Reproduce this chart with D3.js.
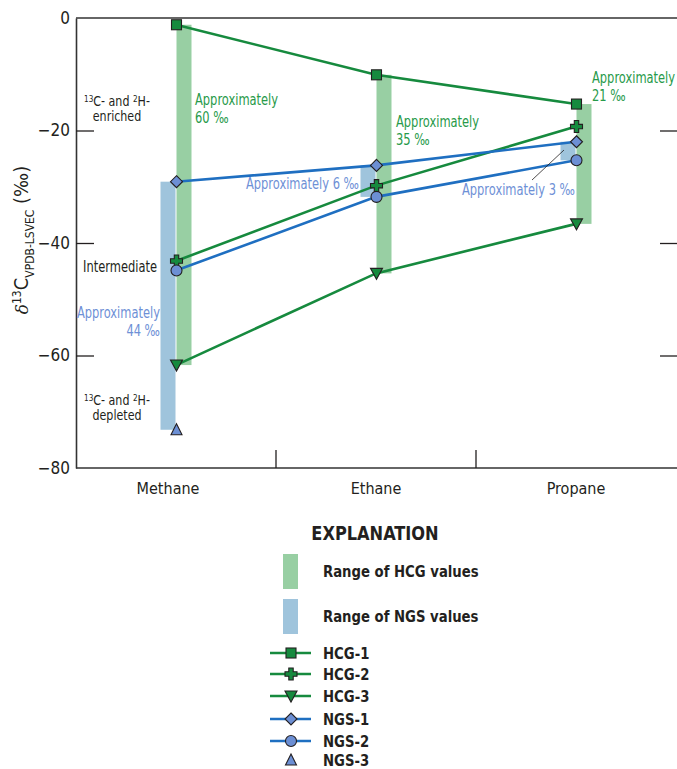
<!DOCTYPE html>
<html>
<head>
<meta charset="utf-8">
<script src="https://cdn.jsdelivr.net/npm/d3@7"></script>
<style>
  body { margin: 0; background: #fff; }
  svg text { font-family: "Liberation Sans Narrow", "DejaVu Sans Condensed", "Roboto", sans-serif; fill: #231f20; }
</style>
</head>
<body>
<script>
// data (delta 13C, permil)
var categories = ["Methane", "Ethane", "Propane"]
var seriesNames = ["HCG-1", "HCG-2", "HCG-3", "NGS-1", "NGS-2", "NGS-3"]
var hcg1 = [-1.2, -10.1, -15.3]
var hcg2 = [-43.2, -29.8, -19.3]
var hcg3 = [-61.7, -45.4, -36.6]
var ngs1 = [-29.1, -26.2, -22.0]
var ngs2 = [-44.9, -31.8, -25.3]
var ngs3 = [-73.2, null, null]
var yTicks = [-80, -60, -40, -20, 0]

var series = [
  {name: "HCG-1", group: "HCG", symbol: "square", values: hcg1},
  {name: "HCG-2", group: "HCG", symbol: "plus", values: hcg2},
  {name: "HCG-3", group: "HCG", symbol: "down", values: hcg3},
  {name: "NGS-1", group: "NGS", symbol: "diamond", values: ngs1},
  {name: "NGS-2", group: "NGS", symbol: "circle", values: ngs2},
  {name: "NGS-3", group: "NGS", symbol: "up", values: ngs3}
]

var col = {
  HCG: {line: "#168a3e", fill: "#168a3e", bar: "#98cfa3", text: "#279a4a"},
  NGS: {line: "#1f6fc1", fill: "#6c8fd4", bar: "#9fc4dc", text: "#6e90d6"}
}

var W = 677, H = 769

var svg = d3.select("body").append("svg")
    .attr("width", W)
    .attr("height", H)

var x = d3.scaleBand().domain(categories).range([76, 676])
var y = d3.scaleLinear().domain([-80, 0]).range([468, 18])
var cx = function(i) { return x(categories[i]) + x.bandwidth() / 2 }

// range bars
var bw = 15
categories.forEach(function(c, i) {
  ["HCG", "NGS"].forEach(function(g) {
    var vals = series.filter(function(s) { return s.group == g })
      .map(function(s) { return s.values[i] })
      .filter(function(v) { return v != null })
    var ext = d3.extent(vals)
    svg.append("rect")
      .attr("x", g == "HCG" ? cx(i) + 0.5 : cx(i) - bw - 0.5)
      .attr("y", y(ext[1]))
      .attr("width", bw)
      .attr("height", y(ext[0]) - y(ext[1]))
      .attr("fill", col[g].bar)
  })
})

// axes
var axisStyle = function(g) {
  g.select(".domain").attr("stroke", "#333").attr("stroke-width", 1.6)
  g.selectAll(".tick line").attr("stroke", "#231f20").attr("stroke-width", 1.3)
  g.selectAll(".tick text").style("font-size", "17px")
}

svg.append("g")
    .attr("transform", "translate(76,0)")
    .call(d3.axisLeft(y).tickValues(yTicks).tickSize(-18).tickPadding(6).tickSizeOuter(0))
    .call(axisStyle)
    .call(function(g) {
      g.selectAll(".tick").filter(function(d) { return d == 0 || d == -80 }).select("line").remove()
    })

svg.append("g")
    .attr("transform", "translate(678,0)")
    .call(d3.axisRight(y).tickValues([-60, -40, -20]).tickSize(-18).tickFormat("").tickSizeOuter(0))
    .call(axisStyle)

// top frame
svg.append("line")
    .attr("x1", 76).attr("x2", 678).attr("y1", 18).attr("y2", 18)
    .attr("stroke", "#333").attr("stroke-width", 1.6)

var xb = svg.append("g")
    .attr("transform", "translate(0,468)")
    .call(d3.axisBottom(x).tickSize(0).tickPadding(15).tickSizeOuter(0))
    .call(axisStyle)
xb.select(".domain").attr("d", "M76,0H678")
xb.selectAll(".tick text").style("font-size", "16px")
xb.selectAll(".tick").filter(function(d) { return d == "Methane" }).select("text").attr("x", -8)

svg.append("g").selectAll("line")
    .data(categories.slice(1))
    .enter().append("line")
    .attr("x1", function(d) { return x(d) }).attr("x2", function(d) { return x(d) })
    .attr("y1", 468).attr("y2", 450)
    .attr("stroke", "#231f20").attr("stroke-width", 1.3)

// y label
var yl = svg.append("text")
    .attr("transform", "translate(28,240) rotate(-90)")
    .attr("text-anchor", "middle")
    .style("font-size", "20px")
yl.append("tspan").text("δ").style("font-style", "italic").style("font-family", "DejaVu Serif, serif").style("font-size", "17px")
yl.append("tspan").text("13").attr("dy", -7).style("font-size", "12px")
yl.append("tspan").text("C").attr("dy", 7)
yl.append("tspan").text("VPDB-LSVEC").attr("dy", 6).style("font-size", "12px")
yl.append("tspan").text(" (‰)").attr("dy", -6)

// lines + markers
var line = d3.line()
    .defined(function(d) { return d != null })
    .x(function(d, i) { return cx(i) })
    .y(function(d) { return y(d) })

function marker(g, sym, group) {
  var fill = col[group].fill, st = "#231f20"
  if (sym == "square") {
    g.append("rect").attr("x", -5).attr("y", -5).attr("width", 10).attr("height", 10)
  } else if (sym == "plus") {
    g.append("path").attr("d", "M-2.2,-6H2.2V-2.2H6V2.2H2.2V6H-2.2V2.2H-6V-2.2H-2.2Z")
  } else if (sym == "down") {
    g.append("path").attr("d", "M-6,-5H6L0,6Z")
  } else if (sym == "up") {
    g.append("path").attr("d", "M-5.5,5H5.5L0,-6Z")
  } else if (sym == "diamond") {
    g.append("path").attr("d", "M0,-6L6,0L0,6L-6,0Z")
  } else {
    g.append("circle").attr("r", 5.5)
  }
  g.selectAll("*").attr("fill", fill).attr("stroke", st).attr("stroke-width", 1.1)
}

series.forEach(function(s) {
  if (s.values.filter(function(v) { return v != null }).length > 1) {
    svg.append("path")
      .datum(s.values)
      .attr("d", line)
      .attr("fill", "none")
      .attr("stroke", col[s.group].line)
      .attr("stroke-width", 2.6)
  }
})
series.forEach(function(s) {
  s.values.forEach(function(v, i) {
    if (v == null) return
    var g = svg.append("g").attr("transform", "translate(" + (cx(i) + 0.5) + "," + y(v) + ")")
    marker(g, s.symbol, s.group)
  })
})

// condensed text: squeeze horizontally to mimic the narrow original face
function ctext(xp, yp, sx) {
  return svg.append("g")
    .attr("transform", "translate(" + xp + "," + yp + ") scale(" + sx + ",1)")
    .append("text")
}

function note(lines, xp, yp, anchor, color, size, lh) {
  var t = ctext(xp, yp, 0.85)
    .attr("text-anchor", anchor)
    .style("font-size", (size || 15) + "px")
    .style("fill", color)
  lines.forEach(function(l, k) {
    t.append("tspan").attr("x", 0).attr("dy", k == 0 ? 0 : (lh || 18)).text(l)
  })
  return t
}
function isoNote(yp, word) {
  var t = ctext(117, yp, 0.85).attr("text-anchor", "middle").style("font-size", "14.5px")
  t.append("tspan").text("13").attr("dy", -4).style("font-size", "9.5px")
  t.append("tspan").text("C- and ").attr("dy", 4)
  t.append("tspan").text("2").attr("dy", -4).style("font-size", "9.5px")
  t.append("tspan").text("H-").attr("dy", 4)
  ctext(117, yp + 15, 0.85).attr("text-anchor", "middle").style("font-size", "14.5px").text(word)
}
isoNote(106, "enriched")
isoNote(405, "depleted")
note(["Intermediate"], 120, 272, "middle", "#231f20")

note(["Approximately", "60 ‰"], 195, 105, "start", col.HCG.text)
note(["Approximately", "35 ‰"], 396, 127, "start", col.HCG.text)
note(["Approximately", "21 ‰"], 592, 83, "start", col.HCG.text)
note(["Approximately", "44 ‰"], 160, 318, "end", col.NGS.text)
note(["Approximately 6 ‰"], 359, 189, "end", col.NGS.text)
note(["Approximately 3 ‰"], 575, 195, "end", col.NGS.text)
svg.append("line")
    .attr("x1", 532).attr("y1", 180).attr("x2", 564).attr("y2", 150)
    .attr("stroke", "#231f20").attr("stroke-width", 0.8)

// legend
ctext(375, 540, 0.9).attr("text-anchor", "middle")
    .style("font-size", "20px").style("font-weight", "bold").text("EXPLANATION")

var ranges = [{g: "HCG", label: "Range of HCG values", y: 554}, {g: "NGS", label: "Range of NGS values", y: 599}]
ranges.forEach(function(r) {
  svg.append("rect").attr("x", 283).attr("y", r.y).attr("width", 15).attr("height", 35).attr("fill", col[r.g].bar)
  ctext(323, r.y + 23, 0.92).style("font-size", "16px").style("font-weight", "bold").text(r.label)
})

var legY = [653, 674, 696, 719, 741, 760]
series.forEach(function(s, k) {
  if (s.name != "NGS-3") {
    svg.append("line").attr("x1", 270).attr("x2", 311).attr("y1", legY[k]).attr("y2", legY[k])
      .attr("stroke", col[s.group].line).attr("stroke-width", 2.6)
  }
  marker(svg.append("g").attr("transform", "translate(291," + legY[k] + ")"), s.symbol, s.group)
  ctext(323, legY[k] + 5.5, 0.92).style("font-size", "16px").style("font-weight", "bold").text(s.name)
})
</script>
</body>
</html>
